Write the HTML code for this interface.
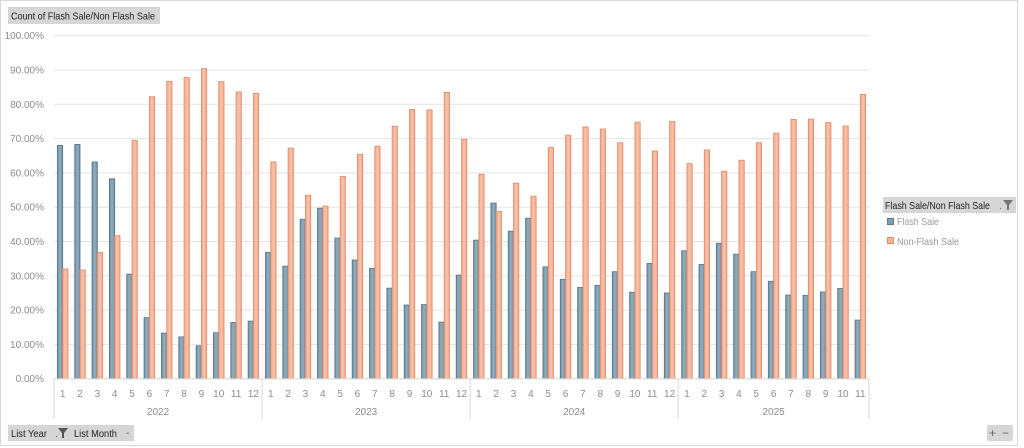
<!DOCTYPE html>
<html><head><meta charset="utf-8"><style>
body{margin:0;background:#fff;font-family:"Liberation Sans",sans-serif}
#c{position:relative;width:1024px;height:448px;overflow:hidden}
</style></head><body><div id="c">
<svg id="s" width="1024" height="448" xmlns="http://www.w3.org/2000/svg" font-family="Liberation Sans, sans-serif">
<defs>
<linearGradient id="gb" x1="0" x2="1"><stop offset="0" stop-color="#6f8fa4"/><stop offset="0.5" stop-color="#94aebf"/><stop offset="1" stop-color="#6f8fa4"/></linearGradient>
<linearGradient id="go" x1="0" x2="1"><stop offset="0" stop-color="#f2a88a"/><stop offset="0.5" stop-color="#f8c3ac"/><stop offset="1" stop-color="#f2a88a"/></linearGradient>
</defs>
<rect x="0.5" y="0.5" width="1017" height="445" fill="#fff" stroke="#d9d9d9"/>
<rect x="8" y="7" width="152" height="17" fill="#d6d6d6"/>
<text x="11" y="19.5" font-size="10.5" fill="#222" textLength="144" lengthAdjust="spacingAndGlyphs">Count of Flash Sale/Non Flash Sale</text>
<g id="g"></g>
<rect x="883" y="197" width="133" height="16" fill="#d6d6d6"/>
<text x="885" y="209" font-size="10.5" fill="#222" textLength="105" lengthAdjust="spacingAndGlyphs">Flash Sale/Non Flash Sale</text>
<text x="999" y="209" font-size="10" fill="#555">.</text>
<path d="M1003 200 h10 l-4 5 v5 h-2 v-5 z" fill="#777"/>
<rect x="887.5" y="218.5" width="6" height="6" fill="#7f9fb3" stroke="#5b7a8e"/>
<text x="897" y="225" font-size="10.5" fill="#999" textLength="42" lengthAdjust="spacingAndGlyphs">Flash Sale</text>
<rect x="887.5" y="237.5" width="6" height="6" fill="#f4b49a" stroke="#e08a66"/>
<text x="897" y="245" font-size="10.5" fill="#999" textLength="62" lengthAdjust="spacingAndGlyphs">Non-Flash Sale</text>
<rect x="8" y="425" width="126" height="16" fill="#d6d6d6"/>
<text x="11" y="437" font-size="10.5" fill="#222" textLength="36" lengthAdjust="spacingAndGlyphs">List Year</text>
<text x="55" y="437" font-size="10" fill="#555">.</text>
<path d="M58 428 h10 l-4 5 v5 h-2 v-5 z" fill="#555"/>
<text x="74" y="437" font-size="10.5" fill="#222" textLength="43" lengthAdjust="spacingAndGlyphs">List Month</text>
<text x="126" y="436" font-size="10" fill="#555">-</text>
<rect x="987" y="425" width="26" height="16" fill="#d6d6d6"/>
<text x="989" y="437" font-size="12" fill="#666">+</text>
<text x="1002" y="437" font-size="12" fill="#666">−</text>
</svg>
<script>
var fl=[68,68.3,63.2,58.3,30.5,17.8,13.3,12.2,9.6,13.4,16.4,16.8,
36.8,32.8,46.5,49.7,41,34.6,32.2,26.4,21.5,21.6,16.5,30.2,
40.4,51.2,43,46.8,32.6,29,26.6,27.2,31.2,25.2,33.6,25,
37.3,33.3,39.5,36.3,31.2,28.4,24.4,24.3,25.3,26.3,17.1];
var L=54,R=869,T=35.7,B=378.7,n=47,cw=(R-L)/n,h='';
function y(v){return B-(B-T)*v/100;}
for(var i=0;i<=10;i++){var yy=y(i*10);h+='<line x1="'+L+'" x2="'+R+'" y1="'+yy+'" y2="'+yy+'" stroke="#e3e3e3"/>';
h+='<text x="44" y="'+(yy+3.5)+'" font-size="10" fill="#8c8c8c" text-anchor="end">'+(i*10)+'.00%</text>';}
for(var i=0;i<n;i++){var c=L+cw*(i+0.5),f=fl[i],o=100-f,bw=5.3,x0=c-5.3;
h+='<rect x="'+x0+'" y="'+y(f)+'" width="'+bw+'" height="'+(B-y(f))+'" fill="url(#gb)" stroke="#56748a" stroke-width="0.8"/>';
h+='<rect x="'+(x0+bw)+'" y="'+y(o)+'" width="'+bw+'" height="'+(B-y(o))+'" fill="url(#go)" stroke="#e08a66" stroke-width="0.8"/>';
var m=(i%12)+1;h+='<text x="'+c+'" y="397" font-size="10" fill="#8c8c8c" text-anchor="middle">'+m+'</text>';}
h+='<line x1="'+L+'" x2="'+R+'" y1="'+B+'" y2="'+B+'" stroke="#d9d9d9"/>';
var yrs=['2022','2023','2024','2025'],st=[0,12,24,36,47];
for(var k=0;k<=4;k++){var xx=L+cw*st[k];h+='<line x1="'+xx+'" x2="'+xx+'" y1="'+B+'" y2="419" stroke="#d9d9d9"/>';
if(k<4){var mx=L+cw*(st[k]+st[k+1])/2;h+='<text x="'+mx+'" y="415" font-size="10" fill="#8c8c8c" text-anchor="middle">'+yrs[k]+'</text>';}}
document.getElementById('g').innerHTML=h;
</script>
</div></body></html>
